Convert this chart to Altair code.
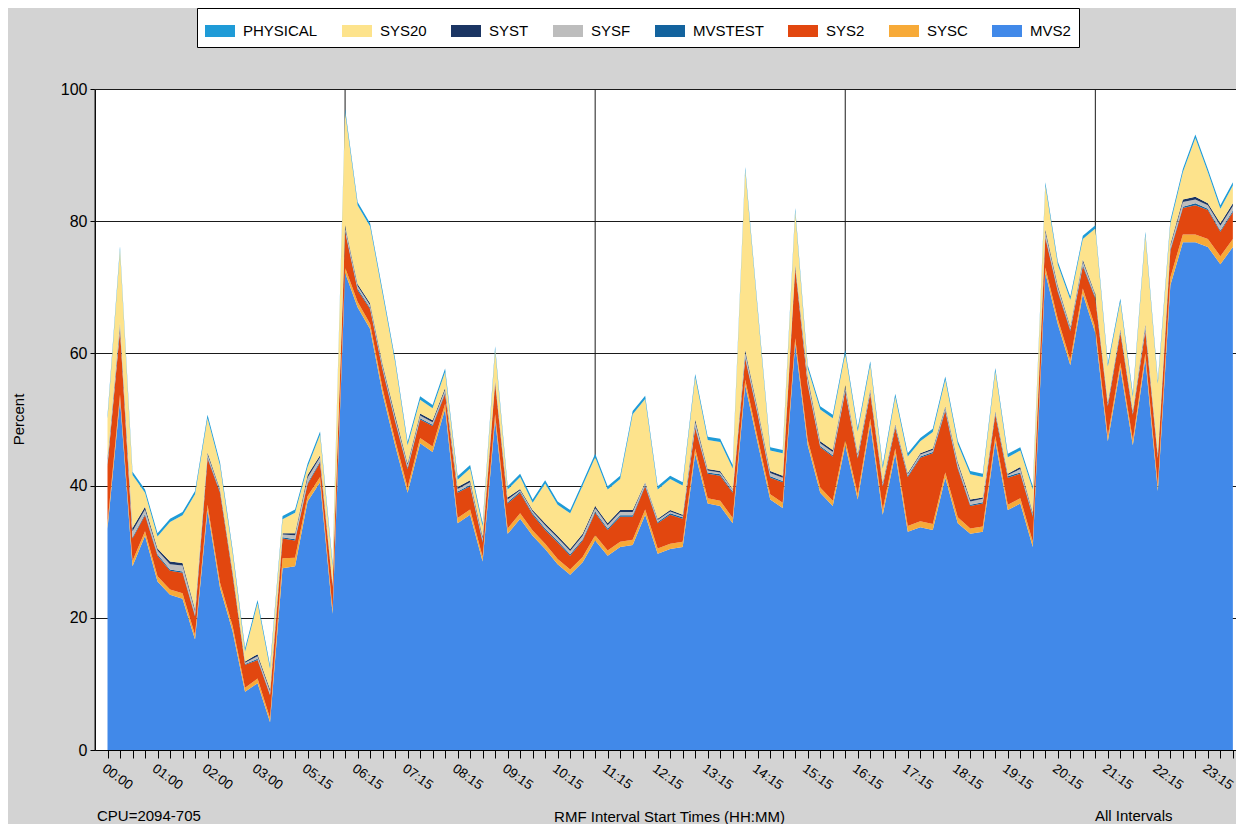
import json
import altair as alt
import pandas as pd

FONT = "Liberation Sans"

times = [
    "00:00", "00:15", "00:30", "00:45", "01:00", "01:15", "01:30", "01:45", "02:00", "02:15",
    "02:30", "02:45", "03:00", "03:15", "03:30", "05:00", "05:15", "05:30", "05:45", "06:00",
    "06:15", "06:30", "06:45", "07:00", "07:15", "07:30", "07:45", "08:00", "08:15", "08:30",
    "08:45", "09:00", "09:15", "09:30", "09:45", "10:00", "10:15", "10:30", "10:45", "11:00",
    "11:15", "11:30", "11:45", "12:00", "12:15", "12:30", "12:45", "13:00", "13:15", "13:30",
    "13:45", "14:00", "14:15", "14:30", "14:45", "15:00", "15:15", "15:30", "15:45", "16:00",
    "16:15", "16:30", "16:45", "17:00", "17:15", "17:30", "17:45", "18:00", "18:15", "18:30",
    "18:45", "19:00", "19:15", "19:30", "19:45", "20:00", "20:15", "20:30", "20:45", "21:00",
    "21:15", "21:30", "21:45", "22:00", "22:15", "22:30", "22:45", "23:00", "23:15", "23:30",
    "23:45",
]

legend_names = ["PHYSICAL", "SYS20", "SYST", "SYSF", "MVSTEST", "SYS2", "SYSC", "MVS2"]
legend_colors = ["#1f9bd7", "#fde38c", "#1b3563", "#bdbdbd", "#13639e", "#e2470f", "#f7aa38", "#4189e9"]
stack_order = ["MVS2", "SYSC", "SYS2", "MVSTEST", "SYSF", "SYST", "SYS20", "PHYSICAL"]

mvs2 = [
    33.5, 53.0, 27.8, 32.4, 25.5, 23.5, 22.9, 16.7, 36.3, 24.5,
    18.0, 8.8, 10.1, 4.2, 27.5, 27.8, 37.6, 40.5, 20.6, 72.2,
    67.0, 63.7, 53.9, 46.1, 38.9, 46.4, 45.1, 51.6, 34.3, 35.6,
    28.5, 50.0, 32.7, 35.0, 32.4, 30.4, 28.1, 26.5, 28.4, 31.7,
    29.4, 30.7, 31.0, 35.6, 29.7, 30.4, 30.7, 44.8, 37.3, 36.9,
    34.3, 55.2, 46.4, 37.9, 36.6, 61.5, 46.1, 38.9, 36.9, 46.1,
    37.9, 49.3, 35.6, 44.8, 33.0, 33.7, 33.3, 41.2, 34.3, 32.7,
    33.0, 46.7, 36.3, 37.3, 30.7, 72.2, 64.4, 58.2, 69.0, 63.1,
    46.7, 57.8, 46.1, 59.2, 39.2, 70.3, 76.8, 76.8, 76.1, 73.5,
    76.1,
]
sysc = [
    0.8, 0.8, 0.8, 0.7, 0.8, 0.8, 0.8, 0.7, 0.8, 0.8,
    0.8, 0.6, 0.7, 0.6, 1.5, 1.3, 0.8, 0.8, 0.7, 0.8,
    0.8, 0.8, 0.8, 0.8, 0.8, 0.8, 0.8, 0.8, 0.8, 0.8,
    0.7, 0.8, 0.8, 0.8, 0.8, 0.8, 0.8, 0.8, 0.8, 0.8,
    0.8, 0.8, 0.8, 0.8, 0.8, 0.8, 0.8, 0.8, 0.8, 0.8,
    0.8, 0.8, 0.8, 0.8, 0.8, 0.8, 0.8, 0.8, 0.8, 0.8,
    0.8, 0.8, 0.8, 0.8, 0.9, 0.9, 0.9, 0.8, 0.9, 0.8,
    0.8, 0.8, 0.8, 0.8, 0.8, 0.8, 0.8, 0.8, 0.8, 0.8,
    0.8, 0.8, 0.8, 0.8, 0.8, 1.2, 1.2, 1.2, 1.2, 1.2,
    1.2,
]
sys2 = [
    8.7, 9.7, 3.4, 2.4, 3.1, 2.8, 3.1, 2.8, 7.0, 13.6,
    7.7, 3.5, 2.8, 3.5, 3.0, 2.6, 1.8, 2.2, 3.4, 5.4,
    1.8, 2.2, 2.8, 2.8, 2.8, 2.8, 3.1, 1.5, 3.8, 3.5,
    2.2, 4.7, 3.8, 3.1, 2.4, 2.1, 2.5, 2.1, 2.5, 3.4,
    3.1, 3.8, 3.5, 3.5, 3.8, 4.4, 3.5, 3.1, 3.7, 3.8,
    3.8, 3.2, 3.5, 2.5, 3.1, 10.6, 8.3, 6.1, 6.7, 7.3,
    5.4, 3.8, 3.5, 3.1, 7.4, 9.6, 10.7, 9.3, 7.4, 3.4,
    3.5, 3.2, 4.1, 3.7, 3.8, 4.5, 4.1, 4.4, 3.4, 4.4,
    4.5, 4.5, 3.8, 3.4, 4.1, 4.0, 4.0, 4.4, 4.4, 3.7,
    4.1,
]
mvstest = [
    0.2, 0.2, 0.2, 0.2, 0.2, 0.2, 0.2, 0.2, 0.2, 0.2,
    0.2, 0.1, 0.2, 0.1, 0.2, 0.2, 0.2, 0.2, 0.2, 0.2,
    0.2, 0.2, 0.2, 0.2, 0.2, 0.2, 0.2, 0.2, 0.2, 0.2,
    0.2, 0.2, 0.2, 0.2, 0.2, 0.2, 0.2, 0.2, 0.2, 0.2,
    0.2, 0.2, 0.2, 0.2, 0.2, 0.2, 0.2, 0.2, 0.2, 0.2,
    0.2, 0.2, 0.2, 0.2, 0.2, 0.2, 0.2, 0.2, 0.2, 0.2,
    0.2, 0.2, 0.2, 0.2, 0.2, 0.2, 0.2, 0.2, 0.2, 0.2,
    0.2, 0.2, 0.2, 0.2, 0.2, 0.2, 0.2, 0.2, 0.2, 0.2,
    0.2, 0.2, 0.2, 0.2, 0.2, 0.2, 0.2, 0.3, 0.2, 0.2,
    0.2,
]
sysf = [
    0.6, 0.6, 0.9, 0.7, 0.6, 0.8, 0.9, 0.6, 0.4, 0.2,
    0.2, 0.2, 0.4, 0.5, 0.4, 0.6, 0.8, 0.6, 0.1, 0.5,
    0.4, 0.4, 0.4, 0.4, 0.4, 0.4, 0.4, 0.4, 0.4, 0.4,
    0.4, 0.2, 0.4, 0.2, 0.3, 0.5, 0.5, 0.5, 0.5, 0.5,
    0.5, 0.5, 0.5, 0.3, 0.3, 0.3, 0.2, 0.7, 0.3, 0.3,
    0.3, 0.7, 0.5, 0.5, 0.5, 0.2, 0.7, 0.4, 0.5, 0.5,
    0.3, 0.3, 0.2, 0.2, 0.2, 0.3, 0.3, 0.3, 0.5, 0.5,
    0.5, 0.2, 0.2, 0.5, 0.2, 0.7, 0.5, 0.3, 0.5, 0.3,
    0.2, 0.2, 0.2, 0.5, 0.3, 0.5, 0.7, 0.6, 0.5, 0.7,
    0.7,
]
syst = [
    0.3, 0.4, 0.5, 0.4, 0.3, 0.4, 0.4, 0.3, 0.3, 0.2,
    0.2, 0.2, 0.3, 0.3, 0.2, 0.3, 0.4, 0.3, 0.1, 0.3,
    0.3, 0.3, 0.3, 0.4, 0.3, 0.3, 0.3, 0.3, 0.3, 0.3,
    0.3, 0.1, 0.3, 0.2, 0.2, 0.3, 0.3, 0.3, 0.3, 0.3,
    0.3, 0.3, 0.3, 0.1, 0.2, 0.2, 0.2, 0.4, 0.2, 0.2,
    0.1, 0.4, 0.3, 0.3, 0.3, 0.2, 0.4, 0.3, 0.3, 0.3,
    0.2, 0.2, 0.2, 0.2, 0.2, 0.2, 0.2, 0.2, 0.3, 0.3,
    0.2, 0.2, 0.2, 0.3, 0.2, 0.4, 0.3, 0.2, 0.3, 0.2,
    0.2, 0.2, 0.2, 0.3, 0.2, 0.3, 0.4, 0.4, 0.3, 0.4,
    0.4,
]
sys20 = [
    6.0, 11.0, 8.0, 2.1, 1.8, 6.0, 7.2, 17.4, 5.2, 3.5,
    2.8, 1.5, 7.7, 3.1, 2.1, 3.1, 1.2, 3.1, 2.7, 17.1,
    11.9, 11.6, 10.6, 8.0, 2.7, 2.1, 1.8, 2.4, 1.1, 1.8,
    1.5, 4.6, 1.2, 1.8, 1.1, 6.0, 4.7, 5.4, 7.3, 7.4,
    5.1, 4.7, 14.5, 12.6, 4.4, 4.7, 4.4, 6.4, 4.4, 4.4,
    3.1, 27.2, 14.7, 3.1, 3.4, 8.0, 1.2, 4.8, 4.8, 4.8,
    3.4, 3.7, 2.1, 4.1, 2.5, 1.8, 2.5, 4.0, 2.7, 3.8,
    3.1, 6.0, 2.5, 2.5, 3.5, 6.6, 3.1, 4.0, 3.1, 9.9,
    5.4, 4.1, 2.1, 13.5, 10.6, 3.1, 4.1, 8.9, 4.7, 2.2,
    2.7,
]
physical = [
    0.5, 0.5, 0.5, 0.5, 0.5, 0.5, 0.5, 0.5, 0.5, 0.5,
    0.5, 0.5, 0.5, 0.5, 0.5, 0.5, 0.5, 0.5, 0.5, 0.5,
    0.5, 0.5, 0.5, 0.5, 0.5, 0.5, 0.5, 0.5, 0.5, 0.5,
    0.5, 0.5, 0.5, 0.5, 0.5, 0.5, 0.5, 0.5, 0.5, 0.5,
    0.5, 0.5, 0.5, 0.5, 0.5, 0.5, 0.5, 0.5, 0.5, 0.5,
    0.5, 0.5, 0.5, 0.5, 0.5, 0.5, 0.5, 0.5, 0.5, 0.5,
    0.5, 0.5, 0.5, 0.5, 0.5, 0.5, 0.5, 0.5, 0.5, 0.5,
    0.5, 0.5, 0.5, 0.5, 0.5, 0.5, 0.5, 0.5, 0.5, 0.5,
    0.5, 0.5, 0.5, 0.5, 0.5, 0.5, 0.5, 0.5, 0.5, 0.5,
    0.5,
]

y_ticks = [0, 20, 40, 60, 80, 100]
grid_positions = [-1, 19, 39, 59, 79]
x_title = "RMF Interval Start Times (HH:MM)"
cpu_note = "CPU=2094-705"
range_note = "All Intervals"

series_values = {
    "MVS2": mvs2, "SYSC": sysc, "SYS2": sys2, "MVSTEST": mvstest,
    "SYSF": sysf, "SYST": syst, "SYS20": sys20, "PHYSICAL": physical,
}
rows = []
for pos, name in enumerate(stack_order):
    for i, v in enumerate(series_values[name]):
        rows.append({"idx": i, "time": times[i], "series": name, "value": v, "pos": pos})
df = pd.DataFrame(rows)

x_scale = alt.Scale(domain=[-1, 90.25], nice=False, zero=False)
y_scale = alt.Scale(domain=[0, 100], nice=False, zero=True)

label_expr = "datum.value % 4 == 0 ? " + json.dumps(times) + "[datum.value] : ''"

x_axis = alt.Axis(
    values=list(range(len(times))),
    labelExpr=label_expr,
    labelAngle=36,
    labelAlign="left",
    labelBaseline="top",
    labelFontSize=13.5,
    labelPadding=3,
    labelOverlap=False,
    labelFlush=False,
    tickSize=8,
    grid=False,
    title=x_title,
    titleFontSize=15,
    titleFontWeight="normal",
    titleX=574,
    titleY=71,
    titleBaseline="alphabetic",
    titleAlign="center",
)
y_axis = alt.Axis(
    values=y_ticks,
    format="d",
    labelFontSize=16,
    labelPadding=3,
    tickSize=5,
    grid=True,
    gridColor="#1a1a1a",
    gridOpacity=1,
    title="Percent",
    titleFontSize=15,
    titleFontWeight="normal",
    titleX=-72,
    titleY=330,
    titleBaseline="alphabetic",
    titleAlign="center",
)

grid = alt.Chart(pd.DataFrame({"g": grid_positions})).mark_rule(
    color="#1a1a1a", strokeWidth=1
).encode(x=alt.X("g:Q", scale=x_scale, axis=x_axis))

area = alt.Chart(df).mark_area(interpolate="linear").encode(
    x=alt.X("idx:Q", scale=x_scale, axis=x_axis),
    y=alt.Y("value:Q", stack="zero", scale=y_scale, axis=y_axis),
    color=alt.Color(
        "series:N",
        scale=alt.Scale(domain=legend_names, range=legend_colors),
        legend=alt.Legend(
            orient="none",
            legendX=102,
            legendY=-81,
            direction="horizontal",
            columns=8,
            title=None,
            fillColor="white",
            strokeColor="#000000",
            padding=8,
            columnPadding=24,
            labelOffset=8,
            symbolType="M-1,-0.4H1V0.4H-1Z",
            symbolSize=900,
            symbolStrokeWidth=0,
            symbolOpacity=1,
            labelFont=FONT,
            labelFontSize=15,
            labelColor="black",
        ),
    ),
    order=alt.Order("pos:Q", sort="ascending"),
)

cpu_text = alt.Chart(pd.DataFrame({"t": [cpu_note]})).mark_text(
    align="left", baseline="alphabetic", fontSize=15, font=FONT, color="black"
).encode(text="t:N", x=alt.value(2), y=alt.value(732))

range_text = alt.Chart(pd.DataFrame({"t": [range_note]})).mark_text(
    align="left", baseline="alphabetic", fontSize=15, font=FONT, color="black"
).encode(text="t:N", x=alt.value(1000), y=alt.value(732))

chart = (
    alt.layer(grid, area, cpu_text, range_text)
    .properties(
        width=1141,
        height=661,
        background="#d3d3d3",
        padding={"left": 87, "top": 81, "right": 0, "bottom": 74},
        autosize=alt.AutoSizeParams(type="none"),
    )
    .configure_view(fill="white", stroke=None)
    .configure_axis(
        labelFont=FONT,
        titleFont=FONT,
        labelColor="black",
        titleColor="black",
        domainColor="black",
        tickColor="black",
        domainWidth=1,
        tickWidth=1,
    )
)

chart.save("out.html", embed_options={"renderer": "svg", "actions": False})
